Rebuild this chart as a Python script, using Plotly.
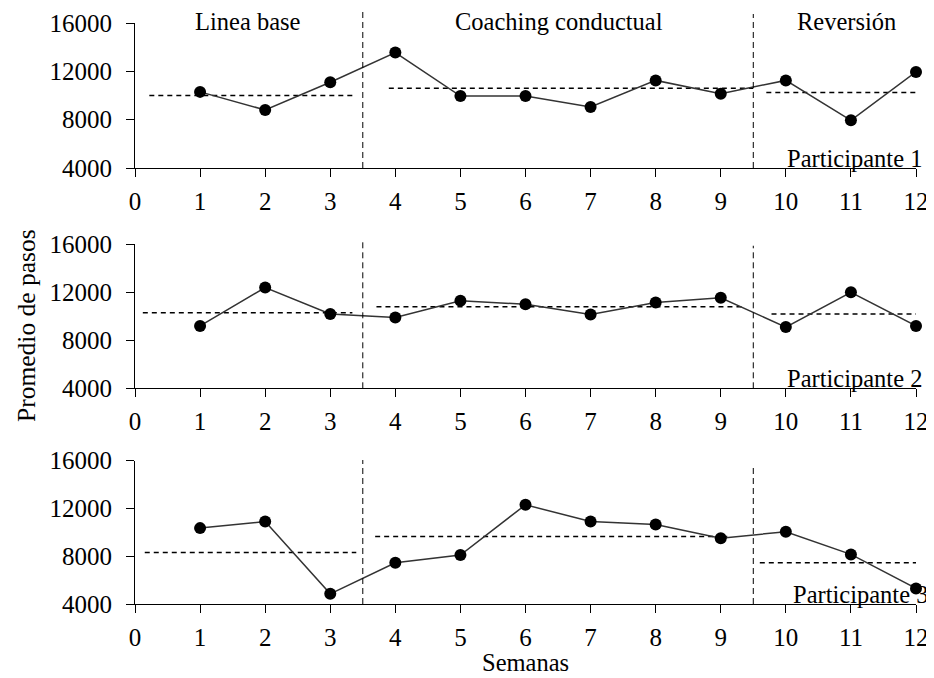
import plotly.graph_objects as go
from plotly.subplots import make_subplots

# ---- data ----
semanas = [1, 2, 3, 4, 5, 6, 7, 8, 9, 10, 11, 12]
participante_1 = [10300, 8800, 11100, 13550, 9950, 9950, 9050, 11250, 10150, 11250, 7950, 11950]
participante_2 = [9200, 12400, 10200, 9900, 11300, 11000, 10150, 11150, 11550, 9100, 12000, 9200]
participante_3 = [10350, 10900, 4850, 7450, 8100, 12300, 10900, 10650, 9500, 10050, 8150, 5300]

medias_1 = [10000, 10600, 10250]
medias_2 = [10300, 10800, 10200]
medias_3 = [8300, 9650, 7450]
tramos_1 = [(0.22, 3.34), (3.9, 9.5), (9.7, 12.1)]
tramos_2 = [(0.12, 3.34), (3.71, 9.35), (9.78, 12.2)]
tramos_3 = [(0.15, 3.4), (3.69, 9.1), (9.6, 12.03)]

cambios_fase = [3.5, 9.5]
fases = ["Linea base", "Coaching conductual", "Reversión"]
fases_x = [1.74, 6.51, 10.93]
etiquetas = ["Participante 1", "Participante 2", "Participante 3"]
y_ticks = [4000, 8000, 12000, 16000]
x_ticks = list(range(0, 13))

# ---- layout constants (pixels, page coordinates; page body has an 8px margin) ----
OFF = 8
W, H = 934 - OFF, 678 - OFF
L = 135 - OFF
R = 18
panels_px = [(23, 168), (244.3, 388.3), (460.6, 604)]  # (top, bottom) in page px
vline_top = [[1.11, 1.062], [1.02, 0.99], [1.004, 0.976]]
FONT = "Liberation Serif, Times New Roman, serif"
TICK_SIZE = 25
LABEL_SIZE = 24.5


def py(p):
    return 1 - (p - OFF) / H


fig = make_subplots(rows=3, cols=1, shared_xaxes=False)

series = [participante_1, participante_2, participante_3]
medias = [medias_1, medias_2, medias_3]
tramos = [tramos_1, tramos_2, tramos_3]

for i in range(3):
    r = i + 1
    for m, (a, b) in zip(medias[i], tramos[i]):
        fig.add_trace(go.Scatter(x=[a, b], y=[m, m], mode="lines",
                                 line=dict(color="black", width=1.5, dash="5px,4px"),
                                 showlegend=False, hoverinfo="skip"), row=r, col=1)
    fig.add_trace(go.Scatter(x=semanas, y=series[i], mode="lines+markers",
                             line=dict(color="#333333", width=1.5),
                             marker=dict(color="black", size=12),
                             cliponaxis=False, showlegend=False), row=r, col=1)

for i in range(3):
    top, bot = panels_px[i]
    dom = [py(bot), py(top)]
    ax = "" if i == 0 else str(i + 1)
    fig.layout["yaxis" + ax].update(
        domain=dom, range=[4000, 16000], tickvals=y_ticks, tickformat="d", showline=True,
        linecolor="black", linewidth=1, ticks="outside", ticklen=8, tickcolor="black",
        showgrid=False, zeroline=False, ticklabelstandoff=9,
        tickfont=dict(family=FONT, size=TICK_SIZE, color="black"))
    fig.layout["xaxis" + ax].update(
        range=[0, 12], tickvals=x_ticks, showline=True, linecolor="black", linewidth=1,
        ticks="outside", ticklen=8, tickcolor="black", showgrid=False, zeroline=False,
        ticklabelstandoff=3, tickfont=dict(family=FONT, size=TICK_SIZE, color="black"))
    xr = "x" if i == 0 else "x" + str(i + 1)
    yr = "y" if i == 0 else "y" + str(i + 1)
    for k, cx in enumerate(cambios_fase):
        fig.add_shape(type="line", xref=xr, yref=yr + " domain", x0=cx, x1=cx,
                      y0=0, y1=vline_top[i][k],
                      line=dict(color="black", width=1, dash="6px,4px"))
    fig.add_annotation(text=etiquetas[i], xref=xr + " domain", yref=yr + " domain",
                       x=1.01 if i < 2 else 1.018, y=0, xanchor="right", yanchor="bottom",
                       yshift=-6, showarrow=False,
                       font=dict(family=FONT, size=LABEL_SIZE, color="black"))

for t, fx in zip(fases, fases_x):
    fig.add_annotation(text=t, xref="x", yref="paper", x=fx, y=py(21),
                       xanchor="center", yanchor="middle", showarrow=False,
                       font=dict(family=FONT, size=LABEL_SIZE, color="black"))

fig.add_annotation(text="Promedio de pasos", xref="paper", yref="paper",
                   x=(26 - 135) / (W - L - R), y=py(326), textangle=-90,
                   xanchor="center", yanchor="middle", showarrow=False,
                   font=dict(family=FONT, size=25.5, color="black"))
fig.add_annotation(text="Semanas", xref="paper", yref="paper",
                   x=0.5, y=py(662), xanchor="center", yanchor="middle",
                   showarrow=False, font=dict(family=FONT, size=LABEL_SIZE, color="black"))

fig.update_layout(width=W, height=H, margin=dict(l=L, r=R, t=0, b=0, autoexpand=False),
                  plot_bgcolor="white", paper_bgcolor="white", showlegend=False)

fig.write_html("out.html")
